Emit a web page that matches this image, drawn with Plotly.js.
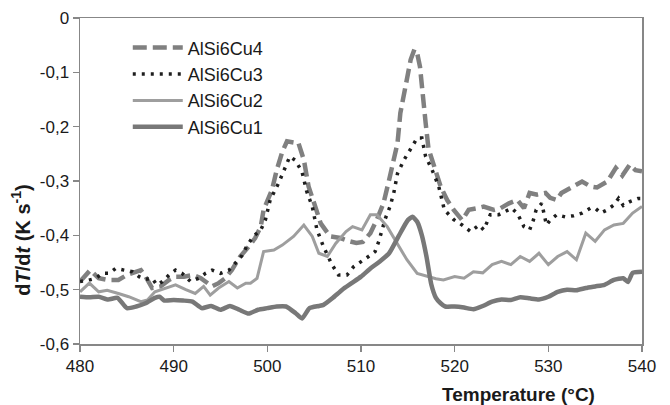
<!DOCTYPE html>
<html>
<head>
<meta charset="utf-8">
<script src="https://cdn.plot.ly/plotly-3.0.1.min.js"></script>
<style>html,body{margin:0;padding:0;background:#fff;}#chart{width:670px;height:405px;}</style>
</head>
<body>
<div id="chart"></div>
<script>
var seriesNames = ['AlSi6Cu4', 'AlSi6Cu3', 'AlSi6Cu2', 'AlSi6Cu1'];

var tempCu4 = [480,481.1,482,482.9,484.1,485,486.5,487,487.7,488.6,489.5,490.2,491.1,492.1,492.9,493.6,494.1,494.8,495.5,496.2,497.1,498,498.7,499.3,499.6,500.5,501,501.6,502.1,502.8,503.3,503.9,504.4,505,505.7,506.7,507.8,508.8,509.5,510.2,511,511.7,512.4,513,513.5,513.9,514.2,514.7,515.3,515.7,516,516.3,516.6,516.9,517.2,517.9,518.5,519.2,519.9,520.8,521.5,522.4,523.1,524.2,524.9,525.8,526.7,527.4,528,528.8,529.7,530.2,530.9,531.4,532.3,533.6,534.5,535.2,536.3,537.2,537.9,538.7,539.3,540];
var dTdtCu4 = [-0.485,-0.464,-0.479,-0.482,-0.482,-0.473,-0.464,-0.476,-0.497,-0.494,-0.482,-0.476,-0.476,-0.473,-0.479,-0.488,-0.494,-0.488,-0.479,-0.464,-0.439,-0.421,-0.405,-0.384,-0.353,-0.316,-0.280,-0.246,-0.227,-0.229,-0.229,-0.261,-0.310,-0.341,-0.378,-0.402,-0.405,-0.411,-0.414,-0.412,-0.396,-0.371,-0.341,-0.298,-0.255,-0.230,-0.175,-0.132,-0.077,-0.058,-0.065,-0.090,-0.150,-0.193,-0.240,-0.279,-0.310,-0.335,-0.353,-0.372,-0.353,-0.350,-0.347,-0.353,-0.350,-0.341,-0.335,-0.350,-0.322,-0.325,-0.322,-0.331,-0.335,-0.322,-0.313,-0.301,-0.310,-0.312,-0.301,-0.276,-0.290,-0.270,-0.280,-0.282];

var tempCu3 = [480,480.8,481.7,482.4,483.1,483.8,484.7,485.6,486.3,487,487.7,488.2,488.8,489.5,490.2,490.9,491.8,492.7,493.4,494.1,495,495.9,496.6,497.3,497.8,498.5,499.3,499.8,500.3,501.2,502.4,503,503.7,504.2,504.8,505.3,506,506.9,507.6,508.5,509.2,510.1,510.8,511.5,511.9,512.6,513.1,513.5,513.9,514.6,515.3,516,516.5,516.9,517.6,518.3,518.9,519.9,520.8,521.7,522.6,523.1,523.8,524.7,525.4,526.1,526.7,527.4,528,528.4,528.7,529.3,529.8,530.2,530.9,531.8,532.7,533.6,534.5,535,535.6,536.3,537,537.5,538,538.7,539.6,540];
var dTdtCu3 = [-0.485,-0.483,-0.479,-0.470,-0.470,-0.461,-0.464,-0.467,-0.476,-0.481,-0.479,-0.491,-0.485,-0.473,-0.464,-0.470,-0.485,-0.479,-0.470,-0.464,-0.470,-0.464,-0.451,-0.437,-0.420,-0.402,-0.390,-0.371,-0.335,-0.304,-0.255,-0.262,-0.283,-0.319,-0.347,-0.390,-0.421,-0.454,-0.473,-0.473,-0.458,-0.448,-0.439,-0.430,-0.411,-0.369,-0.347,-0.322,-0.286,-0.261,-0.240,-0.221,-0.221,-0.255,-0.280,-0.310,-0.353,-0.371,-0.381,-0.393,-0.381,-0.390,-0.362,-0.362,-0.356,-0.350,-0.360,-0.384,-0.390,-0.372,-0.353,-0.341,-0.381,-0.372,-0.362,-0.366,-0.364,-0.359,-0.350,-0.350,-0.359,-0.353,-0.344,-0.332,-0.345,-0.338,-0.332,-0.332];

var tempCu2 = [480,481,482,482.9,484.1,485.2,486.5,487.2,488,489.1,490.2,491.3,492.3,493.2,493.9,494.8,495.9,496.8,497.7,498.2,498.9,499.6,500.7,501.6,502.8,503.9,504.8,505.5,506.4,507.3,508.4,509.1,510.1,511,511.7,512.8,513.9,514.9,516,517.1,518,518.8,520,521,522,523,524,525,526,527,528,529,530,531,532,533,534,535,536,537,538,539,540];
var dTdtCu2 = [-0.504,-0.488,-0.504,-0.501,-0.507,-0.513,-0.522,-0.519,-0.504,-0.497,-0.491,-0.500,-0.507,-0.494,-0.510,-0.497,-0.485,-0.497,-0.488,-0.488,-0.479,-0.430,-0.427,-0.418,-0.402,-0.381,-0.402,-0.433,-0.439,-0.415,-0.393,-0.384,-0.390,-0.362,-0.362,-0.384,-0.415,-0.445,-0.470,-0.476,-0.480,-0.482,-0.476,-0.479,-0.467,-0.469,-0.454,-0.448,-0.454,-0.439,-0.448,-0.433,-0.454,-0.439,-0.430,-0.445,-0.396,-0.411,-0.390,-0.381,-0.378,-0.359,-0.347];

var tempCu1 = [480,481,482,483,484,485,486,487,488,488.5,489,490,491,492,493,494,495,496,497,498,499,500,501,502,503,503.7,504.5,505.5,506,507,508,509,510,511,512,513,514,515,515.5,516,516.5,517,517.5,518,518.5,519,520,521,522,523,524,525,526,527,528,529,530,531,532,533,534,535,536,537,538,538.5,539,540];
var dTdtCu1 = [-0.513,-0.514,-0.513,-0.518,-0.515,-0.534,-0.531,-0.525,-0.515,-0.513,-0.52,-0.519,-0.52,-0.522,-0.534,-0.53,-0.537,-0.530,-0.537,-0.544,-0.537,-0.534,-0.531,-0.531,-0.543,-0.553,-0.534,-0.530,-0.528,-0.515,-0.500,-0.488,-0.476,-0.461,-0.448,-0.433,-0.402,-0.372,-0.366,-0.375,-0.40,-0.44,-0.49,-0.515,-0.525,-0.531,-0.531,-0.533,-0.536,-0.530,-0.522,-0.518,-0.519,-0.514,-0.516,-0.518,-0.513,-0.504,-0.500,-0.501,-0.497,-0.494,-0.491,-0.482,-0.479,-0.486,-0.469,-0.467];

var xTickVals = [480, 490, 500, 510, 520, 530, 540];
var yTickVals = [0, -0.1, -0.2, -0.3, -0.4, -0.5, -0.6];
var yTickText = ['0', '-0,1', '-0,2', '-0,3', '-0,4', '-0,5', '-0,6'];

var traces = [
  {x: tempCu4, y: dTdtCu4, name: seriesNames[0], mode: 'lines',
   line: {color: '#808080', width: 4.5, dash: '14px,6px'}},
  {x: tempCu3, y: dTdtCu3, name: seriesNames[1], mode: 'lines',
   line: {color: '#1e1e1e', width: 3.5, dash: '3px,6px'}},
  {x: tempCu2, y: dTdtCu2, name: seriesNames[2], mode: 'lines',
   line: {color: '#9e9e9e', width: 3}},
  {x: tempCu1, y: dTdtCu1, name: seriesNames[3], mode: 'lines',
   line: {color: '#787878', width: 4.5, shape: 'spline', smoothing: 0.5}}
];

var axisColor = '#878787';
var layout = {
  width: 670, height: 405,
  margin: {l: 80, r: 28, t: 18, b: 61},
  paper_bgcolor: '#ffffff', plot_bgcolor: '#ffffff',
  font: {family: 'Liberation Sans, Arial, sans-serif', color: '#1a1a1a', size: 16},
  showlegend: true,
  legend: {x: 0.085, y: 0.965, xanchor: 'left', yanchor: 'top',
    bgcolor: 'rgba(0,0,0,0)', font: {size: 18, color: '#1a1a1a'},
    tracegroupgap: 0, itemwidth: 50},
  xaxis: {range: [480, 540], tickvals: xTickVals, ticks: 'outside', ticklen: 6,
    tickcolor: axisColor, tickwidth: 1.5, showline: true, linecolor: axisColor,
    linewidth: 1.5, mirror: true, showgrid: false, zeroline: false,
    tickfont: {size: 17, color: '#1a1a1a'}},
  yaxis: {range: [-0.6, 0], tickvals: yTickVals, ticktext: yTickText,
    ticks: 'outside', ticklen: 6, tickcolor: axisColor, tickwidth: 1.5,
    showline: true, linecolor: axisColor, linewidth: 1.5, mirror: true,
    showgrid: false, zeroline: false, tickfont: {size: 17, color: '#1a1a1a'}},
  annotations: [
    {text: '<b>Temperature (°C)</b>', xref: 'paper', yref: 'paper',
     x: 0.78, y: -0.155, xanchor: 'center', yanchor: 'middle', showarrow: false,
     font: {size: 19, color: '#1a1a1a'}},
    {text: '<b>d<i>T</i>/d<i>t</i> (K s<sup>-1</sup>)</b>', xref: 'paper', yref: 'paper',
     x: -0.105, y: 0.32, xanchor: 'center', yanchor: 'middle', showarrow: false,
     textangle: -90, font: {size: 20, color: '#1a1a1a'}}
  ]
};

Plotly.newPlot('chart', traces, layout, {displayModeBar: false, staticPlot: true});
</script>
</body>
</html>
